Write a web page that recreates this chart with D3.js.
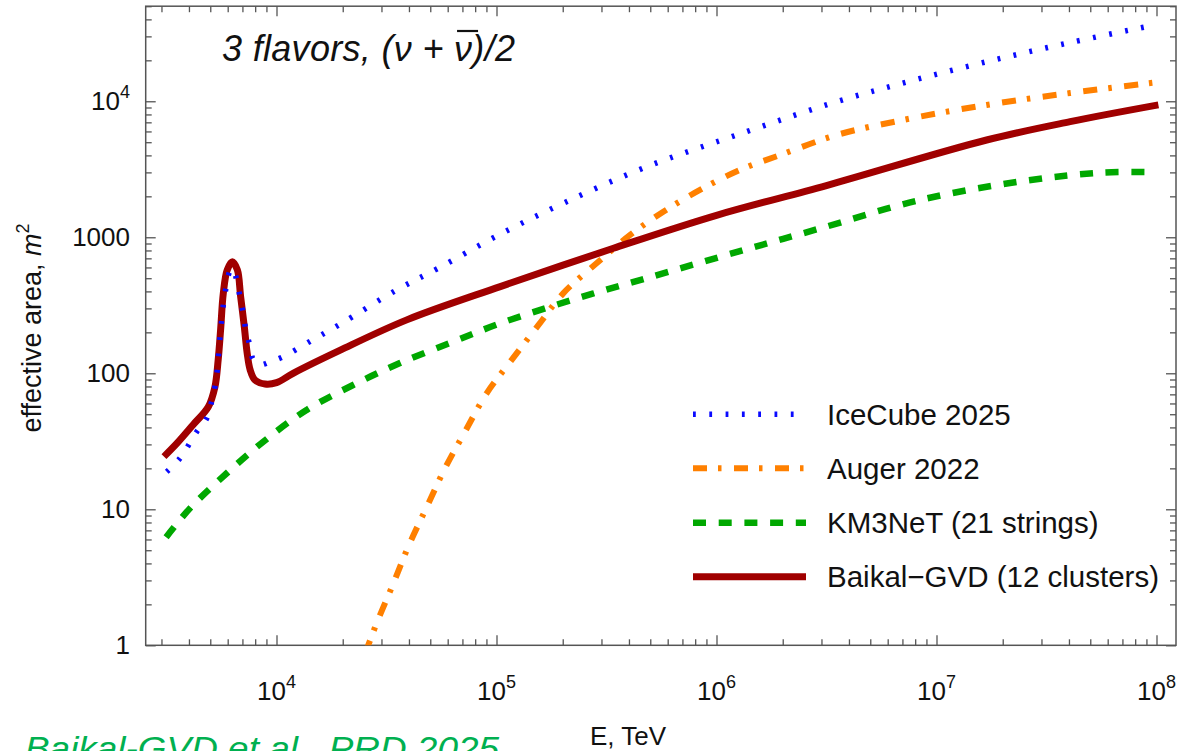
<!DOCTYPE html>
<html>
<head>
<meta charset="utf-8">
<script src="https://cdn.jsdelivr.net/npm/d3@7"></script>
<style>
  body { margin: 0; background: #fff; }
  svg { display: block; }
  text { font-family: "Liberation Sans", Arial, sans-serif; fill: #111; }
</style>
</head>
<body>
<svg id="chart" width="1178" height="751"></svg>
<script>
// Effective area (m^2) vs neutrino energy (TeV), 3 flavours, (nu + nubar)/2

const energyIceCube = [3170, 3640, 4340, 4820, 5070, 5250, 5380, 5530, 5730, 5890, 6040, 6240, 6430, 6590, 6820, 7060, 7260, 7590, 7850, 8510, 9180, 10700, 14600, 19500, 35200, 55300, 100000, 201000, 482000, 1.37e6, 3.40e6, 7.64e6, 1.75e7, 4.04e7, 9.33e7];
const areaIceCube   = [18.9, 23.7, 37.2, 46.7, 61.8, 79.4, 106, 181, 318, 422, 525, 589, 556, 485, 366, 276, 208, 157, 126, 116, 120, 132, 176, 230, 410, 601, 1020, 1780, 3300, 5980, 9770, 14100, 19800, 27000, 35800];

const energyAuger = [25100, 26100, 28500, 34000, 39700, 48200, 58300, 71900, 90200, 117000, 155000, 201000, 285000, 405000, 573000, 841000, 1.28e6, 1.95e6, 3.52e6, 7.06e6, 1.69e7, 4.05e7, 9.66e7];
const areaAuger   = [0.87, 1, 1.45, 2.86, 5.31, 10.4, 20, 37.2, 71.3, 125, 226, 387, 644, 1040, 1540, 2230, 3130, 4030, 5650, 7290, 9400, 11500, 13700];

const energyKM3NeT = [3150, 4050, 5940, 8710, 13700, 22300, 36400, 63700, 104000, 220000, 482000, 1.37e6, 2.95e6, 8.41e6, 2.48e7, 5.64e7, 9.66e7];
const areaKM3NeT   = [6.24, 10.2, 18.4, 31.4, 53.7, 82, 119, 171, 233, 346, 501, 817, 1160, 1880, 2590, 2990, 3010];

const energyBaikal = [3080, 3550, 4170, 4900, 5250, 5430, 5570, 5730, 5970, 6300, 6640, 6870, 7140, 7360, 7590, 7980, 8870, 10000, 11900, 19500, 39100, 104000, 340000, 1e6, 3.16e6, 1.69e7, 4.05e7, 1.02e8];
const areaBaikal   = [24.4, 30.9, 41.7, 56.8, 79.4, 125, 208, 387, 575, 661, 575, 366, 220, 140, 106, 89.3, 83.4, 85.3, 100, 148, 247, 434, 830, 1450, 2400, 5190, 7080, 9400];

const seriesNames = ["IceCube 2025", "Auger 2022", "KM3NeT (21 strings)", "Baikal\u2212GVD (12 clusters)"];
const xTickLabels = ["10", "10", "10", "10", "10"];
const xTickExponents = ["4", "5", "6", "7", "8"];
const yTickLabels = ["1", "10", "100", "1000", "10"];
const yTickExponents = ["", "", "", "", "4"];

const svg = d3.select("#chart");
const plot = { left: 145.7, right: 1176, top: 6.2, bottom: 645.3 };

// decade anchors for the energy axis, then the full frame domain
const xAnchor = d3.scaleLog().domain([1e4, 1e8]).range([276.5, 1156.5]);
const x = d3.scaleLog()
  .domain([xAnchor.invert(plot.left), xAnchor.invert(plot.right)])
  .range([plot.left, plot.right]);
const y = d3.scaleLog().domain([1, 5e4]).range([plot.bottom, plot.top]);

const isMajor = v => Math.abs(Math.log10(v) - Math.round(Math.log10(v))) < 1e-9;
const tickLen = v => isMajor(v) ? 10 : 6;
const axisColor = "#555";

const xTicks = x.ticks();
const yTicks = y.ticks();

function styleAxis(g) {
  g.select(".domain").remove();
  g.selectAll(".tick line").attr("stroke", axisColor).attr("stroke-width", 1.3);
}

// bottom / top
svg.append("g").attr("transform", `translate(0,${plot.bottom})`)
  .call(d3.axisBottom(x).tickValues(xTicks).tickFormat("").tickSizeOuter(0))
  .call(styleAxis)
  .call(g => g.selectAll(".tick line").attr("y2", d => -tickLen(d)));
svg.append("g").attr("transform", `translate(0,${plot.top})`)
  .call(d3.axisTop(x).tickValues(xTicks).tickFormat("").tickSizeOuter(0))
  .call(styleAxis)
  .call(g => g.selectAll(".tick line").attr("y2", d => tickLen(d)));
// left / right
svg.append("g").attr("transform", `translate(${plot.left},0)`)
  .call(d3.axisLeft(y).tickValues(yTicks).tickFormat("").tickSizeOuter(0))
  .call(styleAxis)
  .call(g => g.selectAll(".tick line").attr("x2", d => tickLen(d)));
svg.append("g").attr("transform", `translate(${plot.right},0)`)
  .call(d3.axisRight(y).tickValues(yTicks).tickFormat("").tickSizeOuter(0))
  .call(styleAxis)
  .call(g => g.selectAll(".tick line").attr("x2", d => -tickLen(d)));

// frame
svg.append("rect")
  .attr("x", plot.left).attr("y", plot.top)
  .attr("width", plot.right - plot.left).attr("height", plot.bottom - plot.top)
  .attr("fill", "none").attr("stroke", axisColor).attr("stroke-width", 1.5);

// tick labels
const xMajor = [1e4, 1e5, 1e6, 1e7, 1e8];
xMajor.forEach((v, i) => {
  const t = svg.append("text")
    .attr("x", x(v)).attr("y", 700)
    .attr("text-anchor", "middle")
    .attr("font-size", 26);
  t.append("tspan").text(xTickLabels[i]);
  t.append("tspan").attr("font-size", 18).attr("dy", -12).text(xTickExponents[i]);
});

const yMajor = [1, 10, 100, 1000, 1e4];
yMajor.forEach((v, i) => {
  const t = svg.append("text")
    .attr("x", 130).attr("y", y(v) + 9)
    .attr("text-anchor", "end")
    .attr("font-size", 26);
  t.append("tspan").text(yTickLabels[i]);
  if (yTickExponents[i]) t.append("tspan").attr("font-size", 18).attr("dy", -12).text(yTickExponents[i]);
});

// axis titles
svg.append("text")
  .attr("x", 628).attr("y", 745)
  .attr("text-anchor", "middle").attr("font-size", 26)
  .text("E, TeV");

const yTitle = svg.append("text")
  .attr("transform", "translate(41,328) rotate(-90)")
  .attr("text-anchor", "middle").attr("font-size", 27);
yTitle.append("tspan").text("effective area, ");
yTitle.append("tspan").attr("font-style", "italic").text("m");
yTitle.append("tspan").attr("font-size", 18).attr("dy", -12).text("2");

// panel title: 3 flavors, (nu + nubar)/2
const title = svg.append("text")
  .attr("x", 222).attr("y", 61)
  .attr("font-size", 36).attr("font-style", "italic")
  .attr("textLength", 293).attr("lengthAdjust", "spacing");
title.append("tspan").text("3 flavors, (");
title.append("tspan").text("\u03bd");
title.append("tspan").text(" + ");
title.append("tspan").text("\u03bd");
title.append("tspan").text(")/2");
{
  const node = title.node();
  const idx = "3 flavors, (\u03bd + ".length;
  const s = node.getStartPositionOfChar(idx);
  const e = node.getEndPositionOfChar(idx);
  svg.append("line")
    .attr("x1", s.x + 3).attr("x2", e.x + 6)
    .attr("y1", 31).attr("y2", 31)
    .attr("stroke", "#111").attr("stroke-width", 2.2);
}

// curves
svg.append("defs").append("clipPath").attr("id", "plotClip")
  .append("rect")
  .attr("x", plot.left).attr("y", plot.top)
  .attr("width", plot.right - plot.left).attr("height", plot.bottom - plot.top);

const line = d3.line()
  .x(d => x(d[0])).y(d => y(d[1]))
  .curve(d3.curveCatmullRom.alpha(0.5));

const series = [
  { name: seriesNames[0], e: energyIceCube, a: areaIceCube, color: "#0a0aff", width: 5.5, dash: "2.8,13.5" },
  { name: seriesNames[1], e: energyAuger,   a: areaAuger,   color: "#ff8000", width: 6,   dash: "14,11,3.5,12.5" },
  { name: seriesNames[2], e: energyKM3NeT,  a: areaKM3NeT,  color: "#00a800", width: 6.5, dash: "13,12.7" },
  { name: seriesNames[3], e: energyBaikal,  a: areaBaikal,  color: "#a00000", width: 7,   dash: null }
];

const curves = svg.append("g").attr("clip-path", "url(#plotClip)");
// draw order: Baikal underneath IceCube
[series[2], series[1], series[3], series[0]].forEach(s => {
  curves.append("path")
    .datum(d3.zip(s.e, s.a))
    .attr("d", line)
    .attr("fill", "none")
    .attr("stroke", s.color)
    .attr("stroke-width", s.width)
    .attr("stroke-dasharray", s.dash)
    .attr("stroke-linejoin", "round");
});

// legend
const legendRows = [414.3, 468.3, 522.7, 576.7];
const legend = svg.append("g");
series.forEach((s, i) => {
  legend.append("line")
    .attr("x1", 693).attr("x2", 806)
    .attr("y1", legendRows[i]).attr("y2", legendRows[i])
    .attr("stroke", s.color)
    .attr("stroke-width", s.width)
    .attr("stroke-dasharray", s.dash);
  legend.append("text")
    .attr("x", 827).attr("y", legendRows[i] + 10.5)
    .attr("font-size", 29.5)
    .text(s.name);
});

// citation
svg.append("text")
  .attr("x", 25).attr("y", 760)
  .attr("font-family", "Lato, 'Open Sans', sans-serif")
  .attr("font-style", "italic")
  .attr("font-size", 34)
  .attr("textLength", 474).attr("lengthAdjust", "spacingAndGlyphs")
  .style("fill", "#00b050")
  .text("Baikal-GVD et al., PRD 2025");
</script>
</body>
</html>
